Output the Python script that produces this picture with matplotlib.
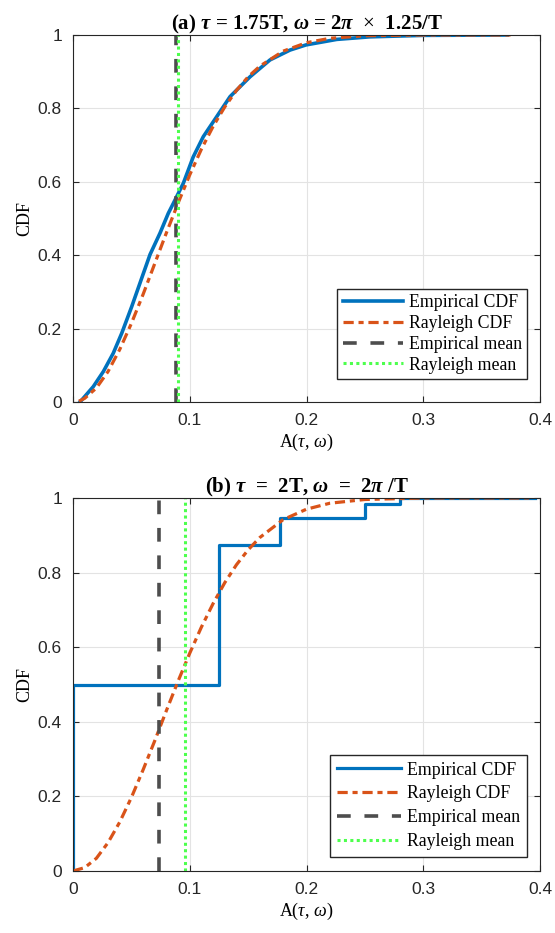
import matplotlib
matplotlib.use("Agg")
import matplotlib.pyplot as plt

plt.rcParams['mathtext.fontset'] = 'custom'
plt.rcParams['mathtext.rm'] = 'Liberation Serif'
plt.rcParams['mathtext.it'] = 'Liberation Serif:italic'
plt.rcParams['mathtext.bf'] = 'Liberation Serif:bold'
plt.rcParams['mathtext.bfit'] = 'Liberation Serif:bold:italic'

# ---------------- data (a) ----------------
a_emp_x = [0.006, 0.0174, 0.026, 0.0345, 0.0417, 0.0503, 0.0588, 0.066, 0.0745, 0.0816,
           0.0859, 0.0945, 0.103, 0.1116, 0.123, 0.1345, 0.1516, 0.1687, 0.1859, 0.1996,
           0.2259, 0.2544, 0.30, 0.372]
a_emp_y = [0.0, 0.042, 0.083, 0.133, 0.187, 0.26, 0.337, 0.402, 0.46, 0.514,
           0.541, 0.596, 0.668, 0.723, 0.777, 0.832, 0.886, 0.932, 0.959, 0.973,
           0.988, 0.995, 0.999, 1.0]
a_ray_x = [0.005, 0.01, 0.02, 0.03, 0.04, 0.05, 0.06, 0.07, 0.08, 0.09, 0.10, 0.11, 0.12,
           0.13, 0.14, 0.15, 0.16, 0.18, 0.20, 0.22, 0.25, 0.30, 0.375]
a_ray_y = [0.002, 0.010, 0.038, 0.083, 0.143, 0.214, 0.293, 0.377, 0.461, 0.542, 0.619,
           0.689, 0.751, 0.804, 0.849, 0.886, 0.915, 0.956, 0.979, 0.991, 0.998, 1.0, 1.0]
a_emp_mean = 0.0882
a_ray_mean = 0.0902

# ---------------- data (b) ----------------
b_emp_x = [0.0, 0.0, 0.125, 0.177, 0.250, 0.280, 0.396]
b_emp_y = [0.0, 0.5, 0.875, 0.947, 0.985, 1.0, 1.0]
b_ray_x = [0.0, 0.01, 0.02, 0.03, 0.04, 0.05, 0.06, 0.07, 0.08, 0.09, 0.10, 0.11, 0.12,
           0.13, 0.14, 0.15, 0.16, 0.18, 0.20, 0.22, 0.25, 0.30, 0.35, 0.393]
b_ray_y = [0.0, 0.009, 0.034, 0.076, 0.131, 0.197, 0.271, 0.349, 0.430, 0.509, 0.584,
           0.654, 0.717, 0.773, 0.821, 0.861, 0.894, 0.942, 0.970, 0.986, 0.996, 1.0, 1.0, 1.0]
b_emp_mean = 0.0737
b_ray_mean = 0.0960

titles = [r"(a) $\mathbfit{\tau}$ = 1.75T, $\mathbfit{\omega}$ = 2$\mathbfit{\pi}$  $\times$  1.25/T",
          r"(b) $\mathbfit{\tau}$  =  2T, $\mathbfit{\omega}$  =  2$\mathbfit{\pi}$ /T"]
legend_labels = ["Empirical CDF", "Rayleigh CDF", "Empirical mean", "Rayleigh mean"]
xticks = [0, 0.1, 0.2, 0.3, 0.4]
xticklabels = ["0", "0.1", "0.2", "0.3", "0.4"]
yticks = [0, 0.2, 0.4, 0.6, 0.8, 1.0]
yticklabels = ["0", "0.2", "0.4", "0.6", "0.8", "1"]

BLUE = '#0072BD'
ORANGE = '#D95319'
GRAY = '#4D4D4D'
GREEN = '#4DFF4D'

fig = plt.figure(figsize=(5.55, 9.33), dpi=100)
ax1 = fig.add_axes([73/555, 1-402/933, 467/555, 367/933])
ax2 = fig.add_axes([73/555, 1-871/933, 467/555, 373/933])

def style(ax, title):
    ax.set_xlim(0, 0.4)
    ax.set_ylim(0, 1)
    ax.set_xticks(xticks)
    ax.set_xticklabels(xticklabels, family='Liberation Sans', fontsize=12.5)
    ax.set_yticks(yticks)
    ax.set_yticklabels(yticklabels, family='Liberation Sans', fontsize=12.5)
    ax.tick_params(direction='in', length=4, width=0.8, colors='#262626',
                   top=True, right=True, pad=8)
    ax.grid(True, color='#E3E3E3', lw=0.8)
    ax.set_axisbelow(True)
    for s in ax.spines.values():
        s.set_color('#262626')
        s.set_linewidth(0.8)
    ax.set_ylabel("CDF", family='Liberation Serif', fontsize=13, labelpad=3)
    ax.set_xlabel(r"A($\tau$, $\omega$)", family='Liberation Serif', fontsize=13, labelpad=3)
    ax.set_title(title, family='Liberation Serif', fontweight='bold', fontsize=15, pad=4)

def draw(ax, ex, ey, rx, ry, em, rm, step):
    if step:
        l1, = ax.step(ex, ey, where='post', color=BLUE, lw=2.3)
    else:
        l1, = ax.plot(ex, ey, color=BLUE, lw=2.6)
    l2, = ax.plot(rx, ry, color=ORANGE, lw=2.3, linestyle=(0, (3.2, 1.5, 1.6, 1.5)))
    l3, = ax.plot([em, em], [0, 1], color=GRAY, lw=2.6, linestyle=(0, (3.8, 3.8)))
    l4, = ax.plot([rm, rm], [0, 1], color=GREEN, lw=2.2, linestyle=(0, (1, 1.1)))
    return [l1, l2, l3, l4]

h1 = draw(ax1, a_emp_x, a_emp_y, a_ray_x, a_ray_y, a_emp_mean, a_ray_mean, False)
style(ax1, titles[0])
ax1.legend(h1, legend_labels, loc='lower right', bbox_to_anchor=(1 - 13/467, 23/367),
           prop={'family': 'Liberation Serif', 'size': 12.8}, frameon=True, fancybox=False,
           edgecolor='#262626', framealpha=1, borderpad=0.3, labelspacing=0.22,
           handlelength=3.4, handletextpad=0.3, borderaxespad=0)

h2 = draw(ax2, b_emp_x, b_emp_y, b_ray_x, b_ray_y, b_emp_mean, b_ray_mean, True)
style(ax2, titles[1])
ax2.legend(h2, legend_labels, loc='lower right', bbox_to_anchor=(1 - 13/467, 14/373),
           prop={'family': 'Liberation Serif', 'size': 12.8}, frameon=True, fancybox=False,
           edgecolor='#262626', framealpha=1, borderpad=0.4, labelspacing=0.38,
           handlelength=3.6, handletextpad=0.3, borderaxespad=0)

fig.savefig("out.png", dpi=100)
